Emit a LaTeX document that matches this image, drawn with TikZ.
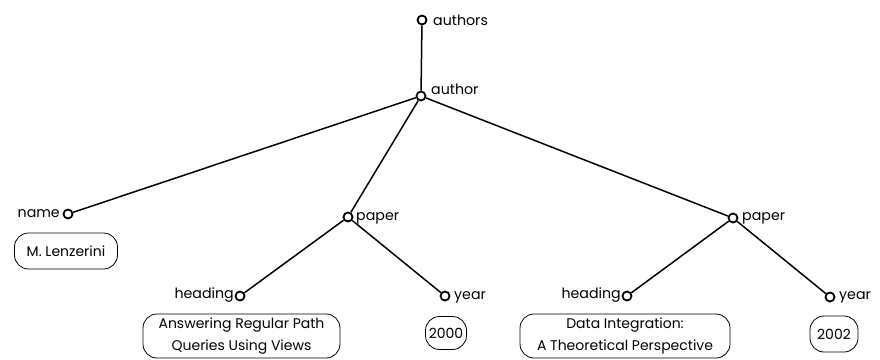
\documentclass[tikz,border=0pt]{standalone}
\usepackage{fontspec}
\setmainfont{Poppins}
\begin{document}
\begin{tikzpicture}[x=1pt,y=-1pt,
  vert/.style={circle,draw,line width=1.8pt,inner sep=0pt,minimum size=9pt},
  lbl/.style={inner sep=0pt,font=\fontsize{14.2}{17}\selectfont},
  val/.style={draw,rounded corners=14pt,line width=0.8pt,align=center,inner sep=2pt,
              font=\fontsize{14}{21.5}\selectfont},
  edge/.style={line width=1.5pt}]
\useasboundingbox (0,0) rectangle (880,359);

% tree vertices
\node[vert] (authors) at (422,20) {};
\node[vert] (author)  at (421,96) {};
\node[vert] (name)    at (68,214) {};
\node[vert] (paperA)  at (348,217) {};
\node[vert] (headA)   at (240,296) {};
\node[vert] (yearA)   at (445,296) {};
\node[vert] (paperB)  at (733,218) {};
\node[vert] (headB)   at (627,296) {};
\node[vert] (yearB)   at (830,297) {};

% element names
\node[lbl,anchor=west] (tAuthors) at (433,20) {authors};
\node[lbl,anchor=west] (tAuthor)  at (431,89) {author};
\node[lbl,anchor=east] (tName)    at (60,214) {name};
\node[lbl,anchor=west] (tPaperA)  at (356,218) {paper};
\node[lbl,anchor=east] (tHeadA)   at (234,295) {heading};
\node[lbl,anchor=west] (tYearA)   at (454,297) {year};
\node[lbl,anchor=west] (tPaperB)  at (742,218) {paper};
\node[lbl,anchor=east] (tHeadB)   at (621,295) {heading};
\node[lbl,anchor=west] (tYearB)   at (839,297) {year};

% text values
\node[val,minimum width=103pt,minimum height=36pt] (vName) at (66,251) {M. Lenzerini};
\node[val,minimum width=197pt,minimum height=44pt] (vHeadA) at (241.5,336) {Answering Regular Path\\Queries Using Views};
\node[val,minimum width=41pt,minimum height=33pt] (vYearA) at (446,333) {2000};
\node[val,minimum width=210pt,minimum height=44pt] (vHeadB) at (625,336) {Data Integration:\\A Theoretical Perspective};
\node[val,minimum width=48pt,minimum height=36pt] (vYearB) at (834,334) {2002};

% edges
\draw[edge] (authors) -- (author);
\draw[edge] (author) -- (name);
\draw[edge] (author) -- (paperA);
\draw[edge] (author) -- (paperB);
\draw[edge] (paperA) -- (headA);
\draw[edge] (paperA) -- (yearA);
\draw[edge] (paperB) -- (headB);
\draw[edge] (paperB) -- (yearB);
\end{tikzpicture}
\end{document}
